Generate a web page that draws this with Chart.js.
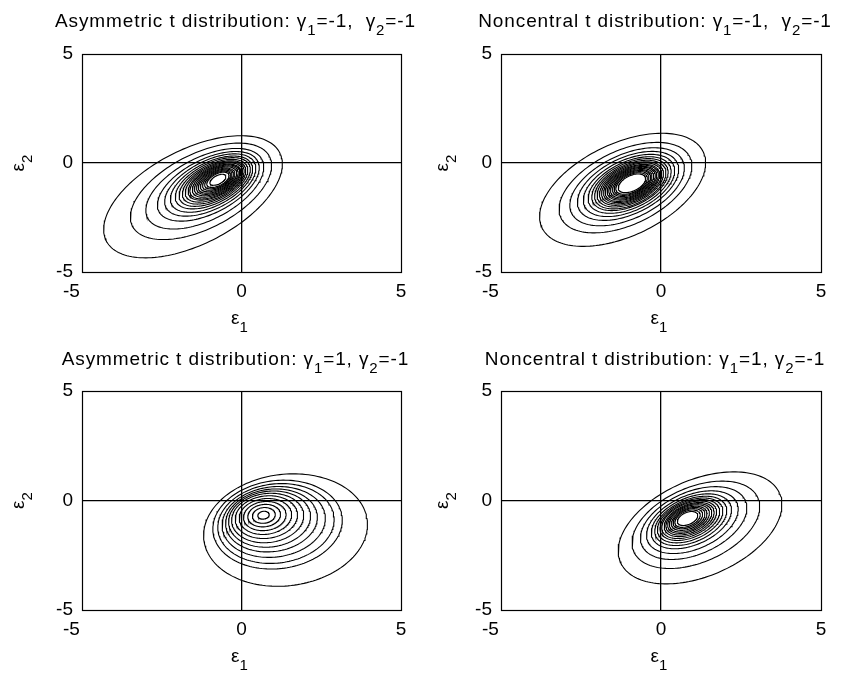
<!DOCTYPE html>
<html>
<head>
<meta charset="utf-8">
<script src="https://cdn.jsdelivr.net/npm/chart.js@4.4.1/dist/chart.umd.min.js"></script>
<style>
  html, body { margin: 0; padding: 0; background: #fff; }
  #wrap { position: relative; width: 847px; height: 677px; background: #fff; }
  #wrap canvas { position: absolute; }
</style>
</head>
<body>
<div id="wrap">
  <canvas id="tl" width="424" height="338" style="left:0;top:0"></canvas>
  <canvas id="tr" width="423" height="338" style="left:424px;top:0"></canvas>
  <canvas id="bl" width="424" height="339" style="left:0;top:338px"></canvas>
  <canvas id="br" width="423" height="339" style="left:424px;top:338px"></canvas>
</div>
<script>
// titles: normal text and subscripts alternate
const titleTL = ['Asymmetric t distribution: γ', '1', '=-1,  γ', '2', '=-1'];
const titleTR = ['Noncentral t distribution: γ', '1', '=-1,  γ', '2', '=-1'];
const titleBL = ['Asymmetric t distribution: γ', '1', '=1, γ', '2', '=-1'];
const titleBR = ['Noncentral t distribution: γ', '1', '=1, γ', '2', '=-1'];
const xLabel = ['ε', '1'];
const yLabel = ['ε', '2'];
const tickValues = [-5, 0, 5];

// contour rings: relative size, centre x, centre y
const tlScale = [1.00, 0.79, 0.66, 0.57, 0.51, 0.46, 0.42, 0.385, 0.355, 0.33, 0.305, 0.285, 0.265, 0.245, 0.225, 0.205, 0.185, 0.165, 0.145, 0.125, 0.09];
const tlCx = [-1.52, -1.27, -1.15, -1.04, -0.98, -0.94, -0.90, -0.88, -0.86, -0.84, -0.82, -0.82, -0.80, -0.79, -0.78, -0.78, -0.77, -0.76, -0.75, -0.74, -0.74];
const tlCy = [-1.55, -1.30, -1.18, -1.07, -1.01, -0.97, -0.93, -0.91, -0.89, -0.87, -0.85, -0.85, -0.83, -0.82, -0.81, -0.81, -0.80, -0.79, -0.78, -0.77, -0.77];
const tlAxes = [3.47, 1.91, 45]; // outer ring semi-axes and tilt (deg)

const trScale = [1.00, 0.80, 0.69, 0.61, 0.55, 0.50, 0.46, 0.43, 0.40, 0.375, 0.35, 0.33, 0.31, 0.29, 0.27, 0.25, 0.23, 0.21, 0.19, 0.165];
const trCx = [-1.20, -1.11, -1.06, -1.03, -1.00, -0.98, -0.97, -0.96, -0.96, -0.95, -0.95, -0.94, -0.94, -0.93, -0.93, -0.93, -0.92, -0.92, -0.92, -0.91];
const trCy = [-1.23, -1.13, -1.09, -1.05, -1.03, -1.01, -0.99, -0.99, -0.98, -0.97, -0.97, -0.96, -0.96, -0.95, -0.95, -0.95, -0.94, -0.94, -0.94, -0.93];
const trAxes = [3.15, 1.88, 45];

const blScale = [1.00, 0.79, 0.71, 0.63, 0.56, 0.50, 0.44, 0.38, 0.32, 0.26, 0.20, 0.14, 0.07];
const blCx = [1.38, 1.13, 1.08, 1.01, 0.94, 0.88, 0.82, 0.78, 0.75, 0.73, 0.71, 0.70, 0.69];
const blCy = [-1.35, -1.10, -1.05, -0.98, -0.91, -0.85, -0.80, -0.76, -0.73, -0.71, -0.69, -0.68, -0.67];
const blAxes = [2.69, 2.44, 45];

const brScale = [1.00, 0.78, 0.65, 0.56, 0.49, 0.44, 0.40, 0.365, 0.335, 0.305, 0.28, 0.255, 0.23, 0.205, 0.18, 0.155, 0.125];
const brCx = [1.22, 1.09, 1.02, 0.98, 0.95, 0.93, 0.91, 0.90, 0.88, 0.88, 0.87, 0.86, 0.85, 0.85, 0.84, 0.83, 0.83];
const brCy = [-1.25, -1.11, -1.03, -0.99, -0.95, -0.93, -0.91, -0.89, -0.88, -0.87, -0.86, -0.85, -0.85, -0.84, -0.83, -0.83, -0.82];
const brAxes = [3.04, 1.96, 45];

const FONT = '"Liberation Sans", Arial, sans-serif';
const FONT_SIZE = 19;

// outline of one tilted ellipse in data units
function ringPoints(cx, cy, a, b, deg) {
  const th = deg * Math.PI / 180;
  const pts = [];
  for (let i = 0; i <= 160; i++) {
    const p = i / 160 * 2 * Math.PI;
    const u = a * Math.cos(p), v = b * Math.sin(p);
    pts.push({ x: cx + u * Math.cos(th) - v * Math.sin(th), y: cy + u * Math.sin(th) + v * Math.cos(th) });
  }
  return pts;
}

function ringDatasets(scale, cxs, cys, axes) {
  return scale.map((s, i) => ({
    data: ringPoints(cxs[i], cys[i], s * axes[0], s * axes[1], axes[2]),
    showLine: true,
    borderColor: '#000',
    borderWidth: 1.1,
    pointRadius: 0,
    fill: false,
    tension: 0
  }));
}

// text with subscripts, parts alternate normal / subscript
function drawParts(ctx, parts, x, y, spacing) {
  const mainFont = FONT_SIZE + 'px ' + FONT;
  const subFont = Math.round(FONT_SIZE * 0.8) + 'px ' + FONT;
  ctx.letterSpacing = spacing || '0px';
  let w = 0;
  parts.forEach((t, i) => {
    ctx.font = i % 2 ? subFont : mainFont;
    w += ctx.measureText(t).width;
  });
  let cx = x - w / 2;
  ctx.textAlign = 'left';
  ctx.textBaseline = 'alphabetic';
  parts.forEach((t, i) => {
    ctx.font = i % 2 ? subFont : mainFont;
    ctx.fillText(t, cx, i % 2 ? y + 8 : y);
    cx += ctx.measureText(t).width;
  });
  ctx.letterSpacing = '0px';
}

const labelsPlugin = {
  id: 'panelText',
  afterDraw(chart, args, opts) {
    const ctx = chart.ctx;
    const area = chart.chartArea;
    const mid = (area.left + area.right) / 2;
    ctx.save();
    ctx.fillStyle = '#000';
    // frame round the plot area
    ctx.strokeStyle = '#000';
    ctx.lineWidth = 1.2;
    ctx.strokeRect(Math.round(area.left) + 0.5, Math.round(area.top) + 0.5,
      Math.round(area.right - area.left), Math.round(area.bottom - area.top));
    drawParts(ctx, opts.title, mid - 6, 27, '0.9px');
    drawParts(ctx, xLabel, mid - 2, area.bottom + 52);
    ctx.translate(24, (area.top + area.bottom) / 2);
    ctx.rotate(-Math.PI / 2);
    drawParts(ctx, yLabel, 0, 0);
    ctx.restore();
  }
};

function axis(extra) {
  return Object.assign({
    type: 'linear',
    min: -5,
    max: 5,
    afterBuildTicks: (s) => { s.ticks = tickValues.map(v => ({ value: v })); },
    grid: {
      drawTicks: false,
      lineWidth: 1.3,
      color: (c) => (c.tick && c.tick.value === 0 ? '#000' : 'rgba(0,0,0,0)')
    },
    border: { display: false }
  }, extra);
}

function makePanel(id, title, datasets, left, top, right, xHeight) {
  return new Chart(document.getElementById(id), {
    type: 'scatter',
    data: { datasets: datasets },
    options: {
      responsive: false,
      animation: false,
      events: [],
      layout: { padding: { left: 0, top: top, right: right, bottom: 0 } },
      plugins: {
        legend: { display: false },
        tooltip: { enabled: false },
        panelText: { title: title }
      },
      scales: {
        x: axis({
          ticks: {
            color: '#000', font: { family: FONT, size: FONT_SIZE }, padding: 8, maxRotation: 0,
            // MATLAB-style placement of the negative end label
            callback: (v) => (v < 0 ? String(v) + '    ' : String(v))
          },
          afterFit: (s) => { s.height = xHeight; }
        }),
        y: axis({
          ticks: { color: '#000', font: { family: FONT, size: FONT_SIZE }, padding: 9, callback: (v) => String(v) },
          afterFit: (s) => { s.width = left; }
        })
      }
    },
    plugins: [labelsPlugin]
  });
}

makePanel('tl', titleTL, ringDatasets(tlScale, tlCx, tlCy, tlAxes), 82, 54, 23, 66);
makePanel('tr', titleTR, ringDatasets(trScale, trCx, trCy, trAxes), 77, 54, 26, 66);
makePanel('bl', titleBL, ringDatasets(blScale, blCx, blCy, blAxes), 82, 53, 23, 67);
makePanel('br', titleBR, ringDatasets(brScale, brCx, brCy, brAxes), 77, 53, 26, 67);
</script>
</body>
</html>
